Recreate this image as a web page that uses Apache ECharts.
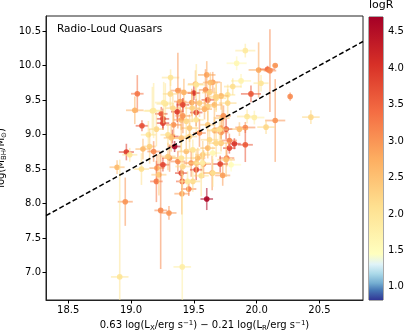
<!DOCTYPE html>
<html>
<head>
<meta charset="utf-8">
<script src="https://cdn.jsdelivr.net/npm/echarts@6/dist/echarts.min.js"></script>
<style>
  html, body { margin: 0; padding: 0; background: #fff; }
  #chart { width: 407px; height: 335px; }
</style>
</head>
<body>
<div id="chart"></div>
<script>
// x = 0.63 log(LX) - 0.21 log(LR), y = log(MBH/Msun), errors, colour = logR
const xVals = [19.315, 19.05, 19.03, 19.087, 18.963, 18.889, 19.17, 19.138, 19.373, 19.273,
  19.368, 19.392, 19.513, 19.50, 19.603, 19.651, 19.593, 19.678, 19.611, 19.484,
  19.545, 19.664, 19.77, 19.77, 19.254, 19.40, 19.466, 19.519, 19.329, 19.757,
  19.91, 19.841, 20.016, 20.087, 20.106, 20.148, 20.035, 19.876, 19.81, 19.955,
  20.267, 20.148, 20.432, 20.075, 19.924, 19.982, 19.91, 19.91, 19.823, 19.783,
  19.783, 19.762, 19.632, 19.413, 19.611, 19.725, 19.347, 19.664, 19.717, 19.863,
  19.717, 19.717, 19.797, 19.71, 19.646, 19.73, 19.577, 19.559, 19.603, 19.651,
  18.99, 19.083, 18.954, 19.148, 19.095, 19.206, 19.202, 19.222, 19.236, 19.302,
  19.408, 19.405, 19.46, 19.307, 19.373, 19.44, 19.479, 19.532, 19.519, 19.40,
  19.492, 19.611, 18.91, 19.408, 19.313, 19.421, 19.625, 19.717, 19.241, 19.333,
  19.413, 19.487, 19.585, 19.736, 19.254, 19.202, 19.339, 19.519, 19.611, 19.40,
  19.294, 19.466, 19.545, 19.625, 19.18, 19.492, 19.571, 19.254, 19.413,
  19.26, 19.44, 19.705, 19.294, 19.40, 19.519, 19.45, 19.678, 19.757, 19.651,
  19.52, 19.678, 19.571, 19.18, 19.32]
const yVals = [9.824, 9.59, 9.35, 9.125, 8.745, 8.525, 9.34, 8.995, 9.636, 9.443,
  9.33, 9.477, 9.73, 9.60, 9.863, 9.757, 9.646, 9.526, 9.501, 9.462,
  9.454, 9.429, 9.574, 9.454, 9.226, 9.212, 9.092, 9.318, 8.97, 9.077,
  10.215, 10.032, 9.935, 9.945, 9.925, 9.998, 9.743, 9.776, 9.694, 9.588,
  9.549, 9.202, 9.251, 9.106, 9.26, 9.245, 9.101, 8.85, 8.865, 8.802,
  8.912, 8.658, 9.751, 9.269, 9.404, 9.237, 8.825, 9.057, 9.092, 9.077,
  9.028, 8.874, 8.561, 8.571, 8.441, 8.406, 8.571, 8.402, 8.064, 8.73,
  8.705, 8.498, 8.025, 8.826, 8.788, 8.512, 8.319, 8.416, 7.899, 7.862,
  8.319, 8.141, 8.209, 8.658, 8.608, 8.753, 8.585, 8.658, 8.488, 8.44,
  8.319, 8.802, 6.935, 7.08, 9.588, 9.607, 9.607, 9.559, 9.299, 9.381,
  9.429, 9.381, 9.367, 9.27, 9.164, 9.077, 9.139, 9.212, 9.14, 8.947,
  8.995, 8.97, 9.02, 8.923, 8.753, 8.778, 8.705, 8.561, 8.536,
  9.462, 9.19, 9.067, 8.681, 8.658, 8.585, 8.319, 8.874, 8.633, 8.441,
  9.72, 9.549, 8.585, 9.346, 8.951]
const xErr = [0.07, 0.05, 0.07, 0.05, 0.06, 0.06, 0.07, 0.06, 0.06, 0.07,
  0.05, 0.05, 0.06, 0.05, 0.07, 0.06, 0.05, 0.08, 0.05, 0.06,
  0.05, 0.06, 0.06, 0.07, 0.05, 0.06, 0.07, 0.05, 0.05, 0.05,
  0.08, 0.08, 0.08, 0.06, 0.05, 0.02, 0.06, 0.08, 0.07, 0.08,
  0.01, 0.08, 0.07, 0.07, 0.08, 0.08, 0.08, 0.06, 0.05, 0.05,
  0.06, 0.06, 0.06, 0.06, 0.06, 0.06, 0.05, 0.06, 0.06, 0.07,
  0.06, 0.07, 0.08, 0.06, 0.07, 0.06, 0.06, 0.06, 0.05, 0.07,
  0.06, 0.06, 0.06, 0.05, 0.06, 0.06, 0.05, 0.06, 0.05, 0.06,
  0.05, 0.06, 0.06, 0.06, 0.06, 0.07, 0.06, 0.06, 0.05, 0.05,
  0.06, 0.06, 0.07, 0.07, 0.06, 0.06, 0.06, 0.06, 0.05, 0.06,
  0.05, 0.06, 0.06, 0.06, 0.05, 0.06, 0.06, 0.06, 0.06, 0.06,
  0.06, 0.06, 0.05, 0.07, 0.05, 0.06, 0.06, 0.05, 0.06,
  0.07, 0.06, 0.07, 0.06, 0.07, 0.06, 0.07, 0.06, 0.07, 0.06,
  0.07, 0.06, 0.06, 0.07, 0.06]
const yErr = [0.12, 0.27, 0.20, 0.08, 0.12, 0.10, 0.35, 0.20, 0.55, 0.30,
  0.15, 0.20, 0.20, 0.10, 0.20, 0.15, 0.30, 0.20, 0.15, 0.20,
  0.20, 0.25, 0.15, 0.20, 0.15, 0.15, 0.20, 0.20, 0.10, 0.15,
  0.10, 0.10, 0.40, 0.05, 0.60, 0.02, 0.12, 0.10, 0.12, 0.12,
  0.06, 0.60, 0.10, 0.10, 0.10, 0.10, 0.08, 0.25, 0.08, 0.08,
  0.10, 0.12, 0.15, 0.25, 0.20, 0.20, 0.08, 0.20, 0.15, 0.10,
  0.10, 0.12, 0.10, 0.12, 0.25, 0.15, 0.20, 0.30, 0.16, 0.10,
  0.10, 0.23, 0.35, 0.25, 0.15, 0.20, 0.30, 0.30, 0.85, 0.10,
  0.15, 0.30, 0.10, 0.20, 0.15, 0.20, 0.20, 0.15, 0.15, 0.10,
  0.15, 0.15, 1.70, 1.35, 0.20, 0.20, 0.15, 0.20, 0.10, 0.20,
  0.10, 0.20, 0.15, 0.15, 0.10, 0.25, 0.20, 0.20, 0.20, 0.20,
  0.15, 0.20, 0.20, 0.15, 0.15, 0.15, 0.20, 0.10, 0.15,
  0.30, 0.25, 0.20, 0.20, 0.25, 0.20, 0.15, 0.20, 0.25, 0.20,
  0.30, 0.20, 0.20, 0.40, 0.20]
const logR = [2.0, 3.3, 2.7, 3.7, 3.9, 2.6, 1.9, 2.0, 3.0, 2.0,
  3.9, 2.9, 2.5, 4.0, 2.8, 2.9, 3.0, 2.1, 3.7, 2.9,
  2.4, 2.6, 2.0, 2.2, 3.9, 2.8, 2.4, 3.8, 3.9, 3.8,
  1.9, 1.6, 2.8, 3.4, 3.1, 3.0, 2.0, 1.7, 2.1, 3.6,
  3.1, 3.0, 2.2, 2.2, 2.0, 1.8, 3.1, 3.6, 4.0, 3.8,
  3.2, 3.2, 2.6, 3.0, 2.3, 2.5, 4.6, 2.4, 2.8, 2.5,
  3.0, 2.4, 1.5, 3.8, 3.0, 2.9, 3.1, 2.1, 4.6, 1.6,
  2.0, 2.1, 3.0, 2.3, 2.6, 2.9, 3.3, 2.4, 3.1, 3.0,
  3.5, 2.9, 3.2, 3.0, 3.1, 2.5, 3.0, 2.6, 3.8, 3.8,
  2.2, 2.6, 2.0, 1.8, 2.2, 2.7, 2.3, 2.6, 3.6, 2.2,
  3.8, 2.3, 2.7, 3.0, 3.9, 2.2, 3.0, 2.0, 2.4, 2.5,
  2.1, 2.3, 3.1, 2.2, 3.1, 2.0, 2.4, 3.8, 2.2,
  1.9, 2.2, 2.1, 2.4, 2.0, 2.3, 1.9, 2.2, 2.5, 2.1,
  2.0, 2.3, 1.8, 1.9, 2.4]

const xTicks = [18.5, 19.0, 19.5, 20.0, 20.5]
const yTicks = [7.0, 7.5, 8.0, 8.5, 9.0, 9.5, 10.0, 10.5]
const cbTicks = [1.0, 1.5, 2.0, 2.5, 3.0, 3.5, 4.0, 4.5]
const xRange = [18.323, 20.847]
const yRange = [6.60, 10.717]
const logRRange = [0.82, 4.70]
const fitSlope = 1.0
const fitIntercept = -10.5

// RdYlBu reversed, yellow pushed down to ~1.45 as in the colour bar
const cmapStops = [
  [0.82, "#313695"], [0.95, "#4575b4"], [1.05, "#74add1"], [1.18, "#abd9e9"],
  [1.31, "#e0f3f8"], [1.45, "#ffffbf"], [2.10, "#fee090"], [2.75, "#fdae61"],
  [3.40, "#f46d43"], [4.05, "#d73027"], [4.70, "#a50026"]
]

function hexRgb(h) {
  return [parseInt(h.slice(1, 3), 16), parseInt(h.slice(3, 5), 16), parseInt(h.slice(5, 7), 16)]
}

function cmap(v) {
  if (v <= cmapStops[0][0]) return cmapStops[0][1]
  for (let i = 1; i < cmapStops.length; i++) {
    if (v <= cmapStops[i][0]) {
      const [v0, c0] = cmapStops[i - 1]
      const [v1, c1] = cmapStops[i]
      const t = (v - v0) / (v1 - v0)
      const a = hexRgb(c0), b = hexRgb(c1)
      return "rgb(" + a.map((x, k) => Math.round(x + (b[k] - x) * t)).join(",") + ")"
    }
  }
  return cmapStops[cmapStops.length - 1][1]
}

const points = xVals.map((x, i) => [x, yVals[i], xErr[i], yErr[i], logR[i]])
const font = "DejaVu Sans"
const tickLabel = { color: "#000", fontSize: 10, fontFamily: font }

const chart = echarts.init(document.getElementById("chart"), null, { renderer: "canvas" })

chart.setOption({
  animation: false,
  title: [
    { text: "Radio-Loud Quasars", left: 57, top: 24, padding: 0,
      textStyle: { fontSize: 10.5, fontWeight: "normal", fontFamily: font, color: "#000" } },
    { text: "logR", left: 369, top: 0, padding: 0,
      textStyle: { fontSize: 11, fontWeight: "normal", fontFamily: font, color: "#000" } }
  ],
  grid: [
    { left: 46, top: 16, right: 44, bottom: 35, show: true, borderColor: "#222", borderWidth: 1,
      outerBoundsMode: "none", containLabel: false },
    { left: 369, top: 17, width: 14, height: 283, show: true, borderColor: "#555", borderWidth: 1,
      outerBoundsMode: "none", containLabel: false }
  ],
  xAxis: [
    {
      type: "value", gridIndex: 0, min: xRange[0], max: xRange[1],
      name: "0.63 log(L{sub|X}/erg s{sup|−1}) − 0.21 log(L{sub|R}/erg s{sup|−1})",
      nameLocation: "middle", nameGap: 19,
      nameTextStyle: {
        color: "#000", fontSize: 10, fontFamily: font,
        rich: {
          sub: { fontSize: 7, fontFamily: font, color: "#000", verticalAlign: "bottom", padding: [5, 0, 0, 0] },
          sup: { fontSize: 7, fontFamily: font, color: "#000", verticalAlign: "top", padding: [0, 0, 5, 0] }
        }
      },
      axisLine: { show: true, lineStyle: { color: "#222", width: 1 } },
      axisTick: { show: true, length: 3.5, customValues: xTicks, lineStyle: { color: "#000" } },
      axisLabel: { ...tickLabel, margin: 5, customValues: xTicks, formatter: v => v.toFixed(1) },
      splitLine: { show: false }
    },
    { type: "value", gridIndex: 1, min: 0, max: 1, show: false }
  ],
  yAxis: [
    {
      type: "value", gridIndex: 0, min: yRange[0], max: yRange[1],
      name: "log(M{sub|BH}/M{sub|⊙})",
      nameLocation: "middle", nameGap: 32, nameRotate: 90,
      nameTextStyle: {
        color: "#000", fontSize: 10, fontFamily: font,
        rich: { sub: { fontSize: 7, fontFamily: font, color: "#000", verticalAlign: "bottom", padding: [5, 0, 0, 0] } }
      },
      axisLine: { show: true, lineStyle: { color: "#222", width: 1 } },
      axisTick: { show: true, length: 3.5, customValues: yTicks, lineStyle: { color: "#000" } },
      axisLabel: { ...tickLabel, margin: 5, customValues: yTicks, formatter: v => v.toFixed(1) },
      splitLine: { show: false }
    },
    {
      type: "value", gridIndex: 1, min: logRRange[0], max: logRRange[1], position: "right",
      axisLine: { show: false },
      axisTick: { show: true, length: 3.5, customValues: cbTicks, lineStyle: { color: "#000" } },
      axisLabel: { ...tickLabel, margin: 5, customValues: cbTicks, formatter: v => v.toFixed(1) },
      splitLine: { show: false }
    }
  ],
  series: [
    {
      type: "custom",
      xAxisIndex: 0, yAxisIndex: 0,
      data: points,
      encode: { x: 0, y: 1 },
      renderItem(params, api) {
        const cs = params.coordSys
        const x = api.value(0), y = api.value(1)
        const xe = api.value(2), ye = api.value(3)
        const col = cmap(api.value(4))
        const c = api.coord([x, y])
        const l = api.coord([x - xe, y])[0], r = api.coord([x + xe, y])[0]
        const clampY = p => Math.max(cs.y, Math.min(cs.y + cs.height, p))
        const t = clampY(api.coord([x, y + ye])[1]), b = clampY(api.coord([x, y - ye])[1])
        return {
          type: "group",
          children: [
            { type: "line", shape: { x1: l, y1: c[1], x2: r, y2: c[1] },
              style: { stroke: col, lineWidth: 1.8, opacity: 0.55 } },
            { type: "line", shape: { x1: c[0], y1: t, x2: c[0], y2: b },
              style: { stroke: col, lineWidth: 1.6, opacity: 0.55 } },
            { type: "circle", shape: { cx: c[0], cy: c[1], r: 2.8 },
              style: { fill: col, opacity: 0.9 } }
          ]
        }
      }
    },
    {
      type: "line",
      xAxisIndex: 0, yAxisIndex: 0,
      data: xRange.map(x => [x, fitSlope * x + fitIntercept]),
      symbol: "none",
      z: 10,
      lineStyle: { color: "#000", width: 1.5, type: [5, 2.6] }
    },
    {
      type: "custom",
      xAxisIndex: 1, yAxisIndex: 1,
      data: [[logRRange[0], logRRange[1]]],
      renderItem(params, api) {
        const lo = api.value(0), hi = api.value(1)
        const p0 = api.coord([0, hi]), p1 = api.coord([1, lo])
        const stops = cmapStops.map(([v, c]) => ({ offset: (v - lo) / (hi - lo), color: c }))
        return {
          type: "rect",
          shape: { x: p0[0], y: p0[1], width: p1[0] - p0[0], height: p1[1] - p0[1] },
          style: { fill: new echarts.graphic.LinearGradient(0, 1, 0, 0, stops) }
        }
      }
    }
  ]
})
</script>
</body>
</html>
